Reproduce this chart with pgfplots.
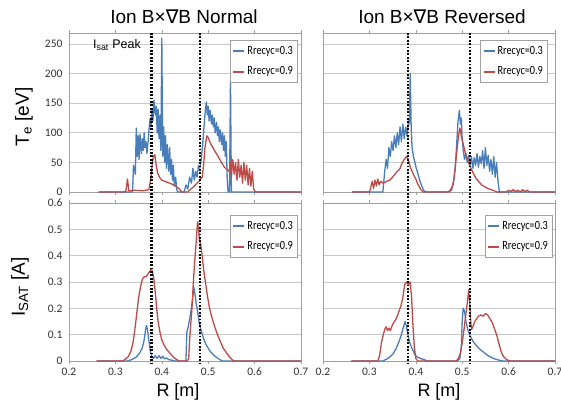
\documentclass[border=0pt]{standalone}
\usepackage{pgfplots}
\pgfplotsset{compat=1.18}
\usepackage{fontspec}
\setmainfont{Liberation Sans}
\newfontfamily\calib{Carlito}
\newfontfamily\legfont[FakeStretch=0.82]{Carlito}
\newfontfamily\dejavu{DejaVu Sans}

\definecolor{cBlue}{RGB}{74,126,187}
\definecolor{cRed}{RGB}{190,75,72}
\definecolor{frameGray}{RGB}{160,160,160}
\definecolor{gridGray}{RGB}{200,200,200}

\newcommand{\nab}{{\dejavu\itshape ∇}}

\pgfplotsset{
  panel/.style={
    scale only axis, width=232pt, anchor=south west,
    xmin=0.2, xmax=0.7,
    xtick={0.2,0.3,0.4,0.5,0.6,0.7},
    axis line style={frameGray, line width=0.9pt},
    ymajorgrids, grid style={gridGray, line width=0.8pt},
    major x tick style={frameGray, line width=0.6pt},
    major tick length=3pt,
    tick align=outside,
    major y tick style={draw=none},
    /pgf/number format/assume math mode=true,
    ticklabel style={font=\calib\fontsize{11.5}{12}\selectfont, text=black!80},
    legend style={draw=frameGray, fill=white, font=\legfont\fontsize{12.5}{12.5}\selectfont,
      inner xsep=2pt, inner ysep=4pt, row sep=7pt, cells={anchor=west}},
    legend image code/.code={\draw[#1, line width=2pt] (0pt,0pt) -- (11pt,0pt);},
    every axis plot/.append style={line width=1.3pt, line join=round},
  },
  tpanel/.style={panel, height=159pt, ymin=0, ymax=268.6, ytick={0,50,100,150,200,250},
    xticklabels={}},
  bpanel/.style={panel, height=158pt, ymin=0, ymax=0.6,
    ytick={0,0.1,0.2,0.3,0.4,0.5,0.6}},
}

\begin{document}
\begin{tikzpicture}
\useasboundingbox (0pt,0pt) rectangle (561pt,405pt);

% ---------------- top left: Te, normal
\begin{axis}[tpanel, at={(69pt,213pt)},
  legend style={at={(0.983,0.956)}, anchor=north east}]
\addplot[cBlue] coordinates {
 (0.264,0)(0.331,0)(0.337,0)(0.339,45)(0.343,30)(0.345,108)(0.347,60)(0.349,95)
 (0.351,55)(0.353,98)(0.356,65)(0.358,90)(0.360,70)(0.362,100)(0.364,75)(0.366,85)
 (0.368,65)(0.371,90)(0.373,110)(0.375,125)(0.377,110)(0.379,140)(0.381,120)(0.383,155)
 (0.386,130)(0.388,145)(0.390,100)(0.392,140)(0.394,90)(0.396,130)(0.398,70)(0.400,260)
 (0.402,60)(0.404,110)(0.406,50)(0.408,95)(0.410,40)(0.412,80)(0.415,35)(0.417,75)
 (0.419,30)(0.421,55)(0.423,20)(0.425,45)(0.427,10)(0.430,25)(0.432,5)(0.434,0)
 (0.448,0)(0.452,12)(0.456,5)(0.460,25)(0.464,15)(0.467,40)(0.470,20)(0.473,35)
 (0.476,25)(0.479,45)(0.482,40)(0.485,55)(0.488,80)(0.491,110)(0.494,140)(0.496,152)
 (0.498,130)(0.500,145)(0.502,120)(0.504,138)(0.507,115)(0.509,130)(0.511,110)(0.513,125)
 (0.515,100)(0.518,118)(0.520,95)(0.522,110)(0.524,85)(0.526,105)(0.529,80)(0.531,100)
 (0.533,70)(0.535,95)(0.537,60)(0.539,85)(0.541,20)(0.543,0)(0.546,0)(0.548,190)
 (0.550,0)(0.700,0)};
\addlegendentry{Rrecyc=0.3}
\addplot[cRed] coordinates {
 (0.264,0)(0.320,0)(0.323,3)(0.326,22)(0.329,2)(0.340,3)(0.360,2)(0.372,4)
 (0.376,20)(0.379,45)(0.382,60)(0.385,63)(0.388,45)(0.391,32)(0.395,25)(0.400,20)
 (0.410,17)(0.420,14)(0.430,10)(0.438,5)(0.443,0)(0.456,0)(0.460,3)(0.470,10)
 (0.480,18)(0.487,25)(0.490,45)(0.493,75)(0.497,95)(0.500,92)(0.505,82)(0.510,75)
 (0.515,68)(0.520,62)(0.525,55)(0.530,48)(0.535,42)(0.540,38)(0.545,35)(0.548,50)
 (0.550,25)(0.553,55)(0.556,30)(0.559,50)(0.562,20)(0.565,55)(0.568,25)(0.571,45)
 (0.574,15)(0.577,50)(0.580,20)(0.583,45)(0.586,12)(0.589,40)(0.592,10)(0.595,35)
 (0.598,5)(0.602,0)(0.700,0)};
\addlegendentry{Rrecyc=0.9}
\coordinate (ta) at (axis cs:0.378,268.6);
\coordinate (tb) at (axis cs:0.482,268.6);
\end{axis}

% ---------------- top right: Te, reversed
\begin{axis}[tpanel, at={(323pt,213pt)}, yticklabels={},
  legend style={at={(0.966,0.956)}, anchor=north east}]
\addplot[cBlue] coordinates {
 (0.262,0)(0.329,0)(0.333,35)(0.336,55)(0.339,40)(0.342,75)(0.345,60)(0.348,85)
 (0.351,70)(0.354,95)(0.357,75)(0.360,100)(0.363,80)(0.366,110)(0.369,85)(0.372,115)
 (0.375,90)(0.378,110)(0.381,95)(0.384,120)(0.386,115)(0.388,200)(0.390,110)(0.392,75)
 (0.395,60)(0.398,50)(0.401,40)(0.405,30)(0.409,18)(0.413,10)(0.417,3)(0.421,0)
 (0.470,0)(0.477,3)(0.481,15)(0.485,40)(0.488,80)(0.491,120)(0.494,138)(0.496,115)
 (0.498,125)(0.500,90)(0.502,72)(0.505,55)(0.508,65)(0.511,50)(0.514,62)(0.517,45)
 (0.520,60)(0.523,40)(0.526,58)(0.529,45)(0.532,65)(0.535,42)(0.538,60)(0.541,48)
 (0.544,70)(0.547,40)(0.550,75)(0.553,45)(0.556,62)(0.559,35)(0.562,55)(0.565,30)
 (0.568,60)(0.571,25)(0.574,50)(0.577,20)(0.580,0)(0.700,0)};
\addlegendentry{Rrecyc=0.3}
\addplot[cRed] coordinates {
 (0.262,0)(0.300,0)(0.303,8)(0.306,18)(0.309,6)(0.312,20)(0.315,10)(0.318,22)
 (0.321,12)(0.324,18)(0.330,15)(0.337,18)(0.344,20)(0.350,25)(0.355,30)(0.360,35)
 (0.365,38)(0.370,48)(0.375,55)(0.380,60)(0.384,55)(0.388,42)(0.392,35)(0.396,28)
 (0.400,22)(0.404,14)(0.408,8)(0.412,3)(0.416,0)(0.470,0)(0.474,3)(0.478,8)
 (0.482,20)(0.486,50)(0.490,80)(0.493,100)(0.495,108)(0.498,95)(0.501,85)(0.504,75)
 (0.507,65)(0.511,55)(0.515,47)(0.520,38)(0.525,30)(0.530,23)(0.536,17)(0.542,12)
 (0.550,8)(0.558,5)(0.566,3)(0.575,0)(0.595,0)(0.600,3)(0.605,1)(0.610,4)
 (0.615,1)(0.620,3)(0.625,0)(0.630,4)(0.635,1)(0.640,3)(0.645,0)(0.700,0)};
\addlegendentry{Rrecyc=0.9}
\coordinate (tc) at (axis cs:0.383,268.6);
\coordinate (td) at (axis cs:0.517,268.6);
\end{axis}

% ---------------- bottom left: Isat, normal
\begin{axis}[bpanel, at={(69pt,44pt)},
  legend style={at={(0.983,0.924)}, anchor=north east}]
\addplot[cBlue] coordinates {
 (0.260,0)(0.325,0)(0.335,0.005)(0.345,0.015)(0.352,0.03)(0.358,0.05)(0.362,0.08)
 (0.365,0.12)(0.367,0.135)(0.369,0.12)(0.372,0.08)(0.375,0.04)(0.378,0.02)(0.382,0.01)
 (0.386,0.02)(0.390,0.01)(0.394,0.02)(0.398,0.01)(0.402,0.018)(0.406,0.008)(0.410,0.012)
 (0.415,0.005)(0.422,0.003)(0.428,0)(0.452,0)(0.454,0.11)(0.457,0.13)(0.460,0.16)
 (0.463,0.19)(0.466,0.23)(0.469,0.28)(0.471,0.26)(0.474,0.22)(0.477,0.19)(0.481,0.14)
 (0.485,0.115)(0.490,0.085)(0.496,0.06)(0.503,0.04)(0.510,0.025)(0.517,0.015)
 (0.525,0.005)(0.532,0)(0.700,0)};
\addlegendentry{Rrecyc=0.3}
\addplot[cRed] coordinates {
 (0.259,0)(0.315,0)(0.320,0.005)(0.327,0.015)(0.333,0.035)(0.338,0.07)(0.342,0.12)
 (0.346,0.18)(0.350,0.24)(0.354,0.28)(0.358,0.31)(0.362,0.32)(0.366,0.32)(0.370,0.33)
 (0.374,0.34)(0.377,0.35)(0.380,0.34)(0.383,0.31)(0.386,0.26)(0.389,0.20)(0.392,0.15)
 (0.396,0.11)(0.400,0.08)(0.405,0.06)(0.410,0.045)(0.415,0.035)(0.420,0.025)(0.425,0.015)
 (0.430,0.008)(0.437,0)(0.455,0)(0.458,0.01)(0.460,0.08)(0.462,0.13)(0.465,0.20)
 (0.468,0.30)(0.471,0.38)(0.474,0.45)(0.477,0.53)(0.479,0.51)(0.481,0.46)(0.484,0.44)
 (0.487,0.40)(0.490,0.35)(0.494,0.30)(0.498,0.25)(0.503,0.20)(0.508,0.165)(0.514,0.13)
 (0.520,0.10)(0.526,0.075)(0.532,0.05)(0.538,0.035)(0.544,0.02)(0.550,0.008)(0.555,0)
 (0.700,0)};
\addlegendentry{Rrecyc=0.9}
\coordinate (ba) at (axis cs:0.378,-0.008);
\coordinate (bb) at (axis cs:0.482,-0.008);
\end{axis}

% ---------------- bottom right: Isat, reversed
\begin{axis}[bpanel, at={(323pt,44pt)}, yticklabels={},
  legend style={at={(0.987,0.924)}, anchor=north east}]
\addplot[cBlue] coordinates {
 (0.260,0)(0.328,0)(0.335,0.005)(0.342,0.012)(0.350,0.025)(0.357,0.045)(0.363,0.07)
 (0.368,0.095)(0.372,0.12)(0.375,0.14)(0.377,0.15)(0.380,0.13)(0.383,0.10)(0.386,0.075)
 (0.390,0.055)(0.394,0.04)(0.398,0.025)(0.403,0.015)(0.410,0.01)(0.418,0.005)(0.425,0)
 (0.490,0)(0.495,0.01)(0.498,0.05)(0.500,0.15)(0.502,0.20)(0.505,0.19)(0.508,0.15)
 (0.512,0.12)(0.516,0.10)(0.520,0.085)(0.525,0.07)(0.530,0.06)(0.535,0.05)(0.540,0.042)
 (0.545,0.035)(0.550,0.028)(0.556,0.02)(0.562,0.014)(0.570,0.008)(0.580,0.003)(0.588,0)
 (0.700,0)};
\addlegendentry{Rrecyc=0.3}
\addplot[cRed] coordinates {
 (0.262,0)(0.318,0)(0.322,0.02)(0.326,0.07)(0.330,0.10)(0.333,0.12)(0.336,0.13)
 (0.339,0.115)(0.342,0.125)(0.345,0.115)(0.348,0.13)(0.352,0.145)(0.356,0.155)(0.360,0.17)
 (0.364,0.19)(0.368,0.21)(0.372,0.24)(0.376,0.29)(0.380,0.30)(0.384,0.29)(0.388,0.30)
 (0.391,0.24)(0.394,0.13)(0.397,0.05)(0.400,0.01)(0.404,0)(0.487,0)(0.492,0.01)
 (0.496,0.03)(0.500,0.07)(0.504,0.12)(0.508,0.18)(0.511,0.22)(0.514,0.27)(0.516,0.23)
 (0.518,0.16)(0.520,0.12)(0.523,0.13)(0.527,0.15)(0.531,0.16)(0.535,0.17)(0.540,0.175)
 (0.545,0.17)(0.550,0.18)(0.555,0.175)(0.560,0.16)(0.565,0.145)(0.570,0.12)(0.575,0.095)
 (0.580,0.06)(0.585,0.03)(0.590,0.015)(0.596,0.005)(0.603,0)(0.700,0)};
\addlegendentry{Rrecyc=0.9}
\coordinate (bc) at (axis cs:0.383,-0.008);
\coordinate (bd) at (axis cs:0.517,-0.008);
\end{axis}

% dotted I_sat peak markers spanning both rows
\foreach \p/\q in {ta/ba, tb/bb, tc/bc, td/bd}
  \draw[black, line width=2.3pt, dash pattern=on 1.7pt off 1.7pt] (\p) -- (\q);

% titles and labels
\node[font=\fontsize{19}{20}\selectfont] at (184pt,388pt) {Ion B×\nab B Normal};
\node[font=\fontsize{19}{20}\selectfont] at (442pt,388pt) {Ion B×\nab B Reversed};
\node[font=\fontsize{12.5}{13}\selectfont] at (117pt,360pt) {I\textsubscript{sat} Peak};
\node[rotate=90, font=\fontsize{19}{20}\selectfont] at (24pt,288pt) {T\textsubscript{e} [eV]};
\node[rotate=90, font=\fontsize{19}{20}\selectfont] at (20pt,118pt) {I\textsubscript{SAT} [A]};
\node[font=\fontsize{18}{19}\selectfont] at (178pt,13pt) {R [m]};
\node[font=\fontsize{18}{19}\selectfont] at (439pt,13pt) {R [m]};
\end{tikzpicture}
\end{document}
